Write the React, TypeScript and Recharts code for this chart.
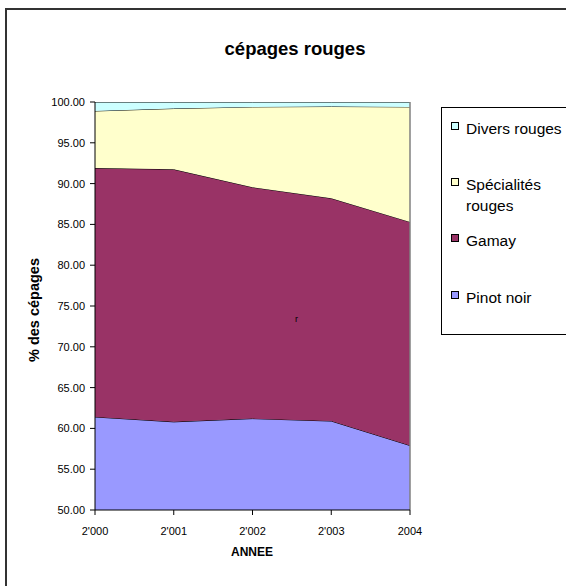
import { Area, AreaChart, Legend, ReferenceLine, XAxis, YAxis } from "recharts";

const years = ["2'000", "2'001", "2'002", "2'003", "2004"];
const pinotNoir = [61.4, 60.8, 61.2, 60.9, 57.9];
const gamay = [30.5, 30.95, 28.35, 27.3, 27.4];
const specialites = [7.0, 7.45, 9.85, 11.25, 14.1];
const divers = [1.1, 0.8, 0.6, 0.55, 0.6];
const yTicks = [50, 55, 60, 65, 70, 75, 80, 85, 90, 95, 100];

const series = [
  { key: "pinot", label: "Pinot noir", color: "#9999FF", values: pinotNoir },
  { key: "gamay", label: "Gamay", color: "#993366", values: gamay },
  { key: "spec", label: "Spécialités rouges", color: "#FFFFCC", values: specialites },
  { key: "divers", label: "Divers rouges", color: "#CCFFFF", values: divers },
];

const data = years.map((year, i) => {
  const row: Record<string, string | number> = { year };
  series.forEach((s) => (row[s.key] = s.values[i]));
  return row;
});

const FONT = "'Liberation Sans', Arial, sans-serif";

// legend rows, top to bottom (text line centres, relative to the box)
const legendRows = [
  { lines: ["Divers rouges"], color: "#CCFFFF", centres: [21] },
  { lines: ["Spécialités", "rouges"], color: "#FFFFCC", centres: [77, 98] },
  { lines: ["Gamay"], color: "#993366", centres: [133] },
  { lines: ["Pinot noir"], color: "#9999FF", centres: [190] },
];

function LegendBox() {
  return (
    <div
      style={{
        position: "absolute",
        left: 441,
        top: 107,
        width: 200,
        height: 226,
        border: "1px solid #000",
        background: "#fff",
        fontFamily: FONT,
        fontSize: 15.5,
        color: "#000",
      }}
    >
      {legendRows.map((r) => (
        <div key={r.lines[0]}>
          <span
            style={{
              position: "absolute",
              left: 9,
              top: r.centres[0] - 7,
              width: 6,
              height: 6,
              background: r.color,
              border: "1px solid #000",
            }}
          />
          {r.lines.map((l, j) => (
            <div
              key={l}
              style={{
                position: "absolute",
                left: 24,
                top: r.centres[j] - 9,
                lineHeight: "18px",
                whiteSpace: "nowrap",
              }}
            >
              {l}
            </div>
          ))}
        </div>
      ))}
    </div>
  );
}

export default function App() {
  return (
    <div
      style={{
        position: "absolute",
        left: 0,
        top: 0,
        width: 566,
        height: 586,
        overflow: "hidden",
        background: "#fff",
        fontFamily: FONT,
      }}
    >
      <div
        style={{
          position: "absolute",
          left: 5,
          top: 8,
          width: 700,
          height: 700,
          borderLeft: "2px solid #333",
          borderTop: "2px solid #333",
        }}
      />
      <AreaChart
        width={566}
        height={586}
        data={data}
        margin={{ top: 102, right: 156, bottom: 0, left: 0 }}
        style={{ position: "absolute", left: 0, top: 0 }}
      >
        <XAxis
          dataKey="year"
          height={76}
          tickSize={5}
          tickMargin={12}
          tick={{ fontSize: 11, fill: "#000", fontFamily: FONT }}
          stroke="#000"
          interval={0}
        />
        <YAxis
          type="number"
          domain={[50, 100]}
          ticks={yTicks}
          allowDataOverflow
          width={95}
          tickSize={5}
          tickMargin={5}
          tickFormatter={(v: number) => v.toFixed(2)}
          tick={{ fontSize: 11, fill: "#000", fontFamily: FONT }}
          stroke="#000"
        />
        {series.map((s) => (
          <Area
            key={s.key}
            dataKey={s.key}
            name={s.label}
            stackId="1"
            type="linear"
            fill={s.color}
            fillOpacity={1}
            stroke="#000"
            strokeWidth={1}
            isAnimationActive={false}
          />
        ))}
        <ReferenceLine x="2004" stroke="#808080" strokeWidth={1.5} />
        <Legend content={() => null} />
      </AreaChart>
      <LegendBox />
      <div
        style={{
          position: "absolute",
          left: 0,
          width: 590,
          top: 38,
          textAlign: "center",
          fontWeight: "bold",
          fontSize: 18.5,
        }}
      >
        cépages rouges
      </div>
      <div
        style={{
          position: "absolute",
          left: 34,
          top: 310,
          transform: "translate(-50%, -50%) rotate(-90deg)",
          fontWeight: "bold",
          fontSize: 14.5,
          whiteSpace: "nowrap",
        }}
      >
        % des cépages
      </div>
      <div
        style={{
          position: "absolute",
          left: 152,
          width: 200,
          top: 545,
          textAlign: "center",
          fontWeight: "bold",
          fontSize: 12,
        }}
      >
        ANNEE
      </div>
      <div style={{ position: "absolute", left: 295, top: 314, fontSize: 9 }}>r</div>
    </div>
  );
}
